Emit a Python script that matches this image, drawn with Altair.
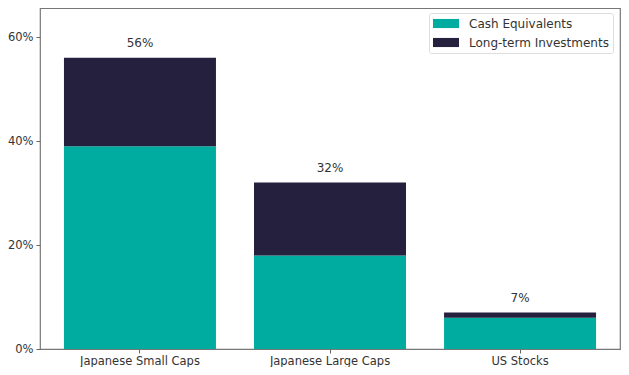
import altair as alt
import pandas as pd

categories = ["Japanese Small Caps", "Japanese Large Caps", "US Stocks"]
series_names = ["Cash Equivalents", "Long-term Investments"]
cash = [0.39, 0.18, 0.06]
longterm = [0.17, 0.14, 0.01]
totals = [0.56, 0.32, 0.07]
total_labels = ["56%", "32%", "7%"]

rows = []
for i, c in enumerate(categories):
    rows.append({"category": c, "series": series_names[0], "value": cash[i], "order": 0})
    rows.append({"category": c, "series": series_names[1], "value": longterm[i], "order": 1})
df = pd.DataFrame(rows)
df_tot = pd.DataFrame({"category": categories, "total": totals, "label": total_labels})

FONT = "DejaVu Sans"
TXT = "#333333"

xenc = alt.X("category:N", sort=categories, title=None,
             scale=alt.Scale(paddingInner=0.2, paddingOuter=0.126),
             axis=alt.Axis(labelAngle=0, labelFontSize=11.5, labelFont=FONT, labelColor=TXT,
                           tickColor="#666", tickSize=4, labelPadding=2, domain=False))
yscale = alt.Scale(domain=[0, 0.6558], nice=False, zero=True)

bars = alt.Chart(df).mark_bar(size=152).encode(
    x=xenc,
    y=alt.Y("value:Q", stack="zero", scale=yscale, title=None,
            axis=alt.Axis(values=[0, 0.2, 0.4, 0.6], format=".0%", grid=False,
                          labelFontSize=11.5, labelFont=FONT, labelColor=TXT,
                          tickColor="#666", tickSize=4, labelPadding=3, domain=False)),
    color=alt.Color("series:N", sort=series_names,
                    scale=alt.Scale(domain=series_names, range=["#00ab9f", "#24203d"]),
                    legend=alt.Legend(title=None, orient="none", legendX=389, legendY=5,
                                      symbolType="M-2,-0.7H2V0.7H-2Z", symbolSize=169,
                                      symbolStrokeWidth=0, symbolOffset=6.5, labelOffset=16.5,
                                      labelFontSize=12, labelFont=FONT, labelColor=TXT,
                                      rowPadding=6, padding=4, fillColor="white",
                                      strokeColor="#dddddd", cornerRadius=2)),
    order=alt.Order("order:Q"),
)

text = alt.Chart(df_tot).mark_text(dy=-11, baseline="alphabetic", fontSize=12, font=FONT,
                                   color=TXT).encode(
    x=alt.X("category:N", sort=categories),
    y=alt.Y("total:Q", scale=yscale),
    text="label:N",
)

chart = (bars + text).properties(
    width=580, height=341,
    background="white",
    autosize=alt.AutoSizeParams(type="none"),
    padding={"left": 32, "top": 0, "right": 1, "bottom": 18},
).configure_view(stroke="#777777", strokeWidth=1.2)

chart.save("out.html", embed_options={"renderer": "svg", "actions": False})
